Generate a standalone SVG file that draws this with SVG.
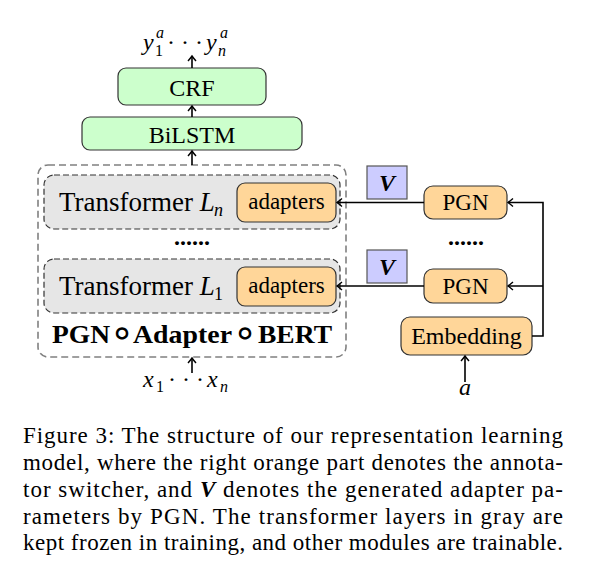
<svg xmlns="http://www.w3.org/2000/svg" width="591" height="587" viewBox="0 0 591 587">
<defs>
<marker id="arr" markerUnits="userSpaceOnUse" markerWidth="12" markerHeight="12" viewBox="-6 -6 12 12" refX="0" refY="0" orient="auto">
<path d="M -5 -4 Q -1.5 -1 0 0 Q -1.5 1 -5 4" fill="none" stroke="#000" stroke-width="1.4"/>
</marker>
<style>
.green{fill:#ccffcc;stroke:#333;stroke-width:1.2}
.orange{fill:#ffd699;stroke:#333;stroke-width:1.2}
.gray{fill:#e6e6e6;stroke:#333;stroke-width:1.2;stroke-dasharray:6 3}
.outer{fill:none;stroke:#808080;stroke-width:1.6;stroke-dasharray:7 4}
.vbox{fill:#ccccff;stroke:#555;stroke-width:1.2}
.c{fill:none;stroke:#000;stroke-width:1.6}
</style>
</defs>

<g id="outputs" font-family="Liberation Serif">
<text font-family="Liberation Serif" font-style="italic" x="143" y="50" font-size="24">y</text>
<text font-family="Liberation Serif" x="155" y="56" font-size="16">1</text>
<text font-family="Liberation Serif" font-style="italic" x="156" y="38" font-size="16">a</text>
<text font-family="Liberation Serif" x="185" y="50" font-size="24" text-anchor="middle">· · ·</text>
<text font-family="Liberation Serif" font-style="italic" x="206" y="50" font-size="24">y</text>
<text font-family="Liberation Serif" font-style="italic" x="218" y="56" font-size="16">n</text>
<text font-family="Liberation Serif" font-style="italic" x="220" y="38" font-size="16">a</text>
</g>

<g id="crf">
<rect class="green" x="118" y="68" width="148" height="37" rx="8"/>
<text font-family="Liberation Serif" x="192" y="96" font-size="24" text-anchor="middle">CRF</text>
</g>

<g id="bilstm">
<rect class="green" x="82" y="117" width="220" height="33" rx="8"/>
<text font-family="Liberation Serif" x="192" y="143" font-size="24" text-anchor="middle">BiLSTM</text>
</g>

<g id="pgn-adapter-bert">
<rect class="outer" x="38" y="165" width="308" height="192" rx="10"/>
<text font-family="Liberation Serif" x="52" y="343" font-size="25" font-weight="bold" textLength="58" lengthAdjust="spacingAndGlyphs">PGN</text>
<text font-family="DejaVu Sans" x="122" y="346" font-size="40" text-anchor="middle">∘</text>
<text font-family="Liberation Serif" x="133" y="343" font-size="25" font-weight="bold" textLength="99" lengthAdjust="spacingAndGlyphs">Adapter</text>
<text font-family="DejaVu Sans" x="245" y="346" font-size="40" text-anchor="middle">∘</text>
<text font-family="Liberation Serif" x="258" y="343" font-size="25" font-weight="bold" textLength="74" lengthAdjust="spacingAndGlyphs">BERT</text>
<text font-family="Liberation Serif" x="192" y="245" font-size="24" font-weight="bold" text-anchor="middle">......</text>
</g>

<g id="transformer-ln">
<rect class="gray" x="44" y="175" width="296" height="54" rx="10"/>
<text font-family="Liberation Serif" x="59" y="211" font-size="27">Transformer <tspan font-style="italic">L</tspan></text>
<text font-family="Liberation Serif" font-style="italic" x="214" y="216" font-size="18">n</text>
</g>
<g id="adapters-n">
<rect class="orange" x="237" y="183" width="99" height="39" rx="8"/>
<text font-family="Liberation Serif" x="286.5" y="209" font-size="23" text-anchor="middle">adapters</text>
</g>

<g id="transformer-l1">
<rect class="gray" x="44" y="259" width="296" height="54" rx="10"/>
<text font-family="Liberation Serif" x="59" y="295" font-size="27">Transformer <tspan font-style="italic">L</tspan></text>
<text font-family="Liberation Serif" x="214" y="300" font-size="18">1</text>
</g>
<g id="adapters-1">
<rect class="orange" x="237" y="267" width="99" height="39" rx="8"/>
<text font-family="Liberation Serif" x="286.5" y="293" font-size="23" text-anchor="middle">adapters</text>
</g>

<g id="v-n">
<rect class="vbox" x="367" y="166" width="40" height="33"/>
<text font-family="Liberation Serif" font-style="italic" x="387" y="191" font-size="24" font-weight="bold" text-anchor="middle">V</text>
</g>
<g id="v-1">
<rect class="vbox" x="367" y="250" width="40" height="33"/>
<text font-family="Liberation Serif" font-style="italic" x="387" y="275" font-size="24" font-weight="bold" text-anchor="middle">V</text>
</g>

<g id="pgn-n">
<rect class="orange" x="424" y="186" width="83" height="33" rx="9"/>
<text font-family="Liberation Serif" x="465.5" y="210" font-size="23" text-anchor="middle">PGN</text>
</g>
<text font-family="Liberation Serif" x="466" y="245" font-size="24" font-weight="bold" text-anchor="middle">......</text>
<g id="pgn-1">
<rect class="orange" x="424" y="269" width="83" height="34" rx="9"/>
<text font-family="Liberation Serif" x="465.5" y="294" font-size="23" text-anchor="middle">PGN</text>
</g>

<g id="embedding">
<rect class="orange" x="401" y="317" width="131" height="38" rx="9"/>
<text font-family="Liberation Serif" x="466.5" y="344" font-size="24" text-anchor="middle">Embedding</text>
</g>

<g id="inputs">
<text font-family="Liberation Serif" font-style="italic" x="143" y="387" font-size="24">x</text>
<text font-family="Liberation Serif" x="156" y="392" font-size="16">1</text>
<text font-family="Liberation Serif" x="186" y="387" font-size="24" text-anchor="middle">· · ·</text>
<text font-family="Liberation Serif" font-style="italic" x="207" y="387" font-size="24">x</text>
<text font-family="Liberation Serif" font-style="italic" x="220" y="392" font-size="16">n</text>
<text font-family="Liberation Serif" font-style="italic" x="465" y="395" font-size="24" text-anchor="middle">a</text>
</g>

<g id="connectors">
<line class="c" x1="192" y1="68" x2="192" y2="56" marker-end="url(#arr)"/>
<line class="c" x1="192" y1="117" x2="192" y2="106" marker-end="url(#arr)"/>
<line class="c" x1="192" y1="165" x2="192" y2="151" marker-end="url(#arr)"/>
<line class="c" x1="192" y1="373" x2="192" y2="358" marker-end="url(#arr)"/>
<line class="c" x1="465" y1="382" x2="465" y2="356" marker-end="url(#arr)"/>
<polyline class="c" points="532,336 543,336 543,202.5 508,202.5" marker-end="url(#arr)"/>
<line class="c" x1="543" y1="286" x2="508" y2="286" marker-end="url(#arr)"/>
<line class="c" x1="424" y1="202.5" x2="337" y2="202.5" marker-end="url(#arr)"/>
<line class="c" x1="424" y1="286" x2="337" y2="286" marker-end="url(#arr)"/>
</g>

<g id="caption">
<text font-family="Liberation Serif" font-size="23" x="23" y="443" textLength="540" lengthAdjust="spacing">Figure 3: The structure of our representation learning</text>
<text font-family="Liberation Serif" font-size="23" x="23" y="470" textLength="540" lengthAdjust="spacing">model, where the right orange part denotes the annota-</text>
<text font-family="Liberation Serif" font-size="23" x="23" y="497" textLength="540" lengthAdjust="spacing">tor switcher, and <tspan font-weight="bold" font-style="italic">V</tspan> denotes the generated adapter pa-</text>
<text font-family="Liberation Serif" font-size="23" x="23" y="523.5" textLength="540" lengthAdjust="spacing">rameters by PGN. The transformer layers in gray are</text>
<text font-family="Liberation Serif" font-size="23" x="23" y="550" textLength="540" lengthAdjust="spacing">kept frozen in training, and other modules are trainable.</text>
</g>
</svg>
